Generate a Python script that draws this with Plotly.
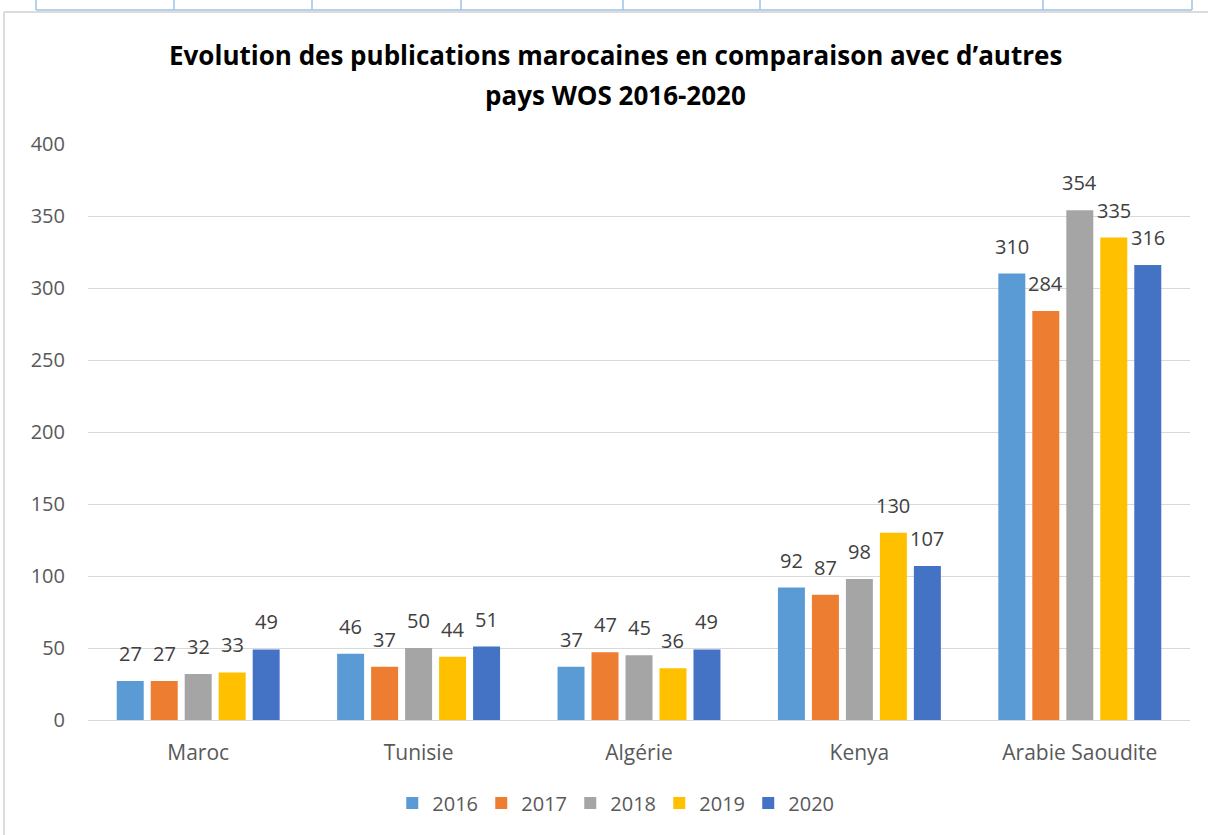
import plotly.graph_objects as go

countries = ['Maroc', 'Tunisie', 'Algérie', 'Kenya', 'Arabie Saoudite']
years = ['2016', '2017', '2018', '2019', '2020']
v2016 = [27, 46, 37, 92, 310]
v2017 = [27, 37, 47, 87, 284]
v2018 = [32, 50, 45, 98, 354]
v2019 = [33, 44, 36, 130, 335]
v2020 = [49, 51, 49, 107, 316]
y_ticks = [0, 50, 100, 150, 200, 250, 300, 350, 400]
title_lines = ['Evolution des publications marocaines en comparaison avec d’autres',
               'pays WOS 2016-2020']

series = [v2016, v2017, v2018, v2019, v2020]
colors = ['#5B9BD5', '#ED7D31', '#A5A5A5', '#FFC000', '#4472C4']
FONT = 'Open Sans'

W, H = 1208, 835
L, R, T, B = 88, 18, 144, 115
pw, ph = W - L - R, H - T - B
BARGAP, GROUPGAP = 0.229, 0.206
# width of one bar slot inside a category, in pixels
slot = pw / len(countries) * (1 - BARGAP) / len(years)


def px(x):
    return (x - L) / pw


def py(y):
    return (H - B - y) / ph


fig = go.Figure()
annotations = []
for i, (year, vals, col) in enumerate(zip(years, series, colors)):
    fig.add_trace(go.Bar(
        x=countries, y=vals, name=year,
        marker=dict(color=col, line=dict(width=0)),
    ))
    # data labels sit a little higher above the bars than plotly's outside text
    for c, v in zip(countries, vals):
        annotations.append(dict(
            x=c, y=v, xref='x', yref='y', text=str(v), showarrow=False,
            xanchor='center', yanchor='bottom', xshift=(i - 2) * slot, yshift=12,
            font=dict(color='#404040', size=20, family=FONT),
        ))

# chart frame and the table border above it (screenshot context)
shapes = [
    dict(type='line', xref='paper', yref='paper', x0=px(4), x1=px(4), y0=py(12), y1=py(840),
         line=dict(color='#D0D0D0', width=1.5)),
    dict(type='line', xref='paper', yref='paper', x0=px(4), x1=px(1210), y0=py(12), y1=py(12),
         line=dict(color='#D0D0D0', width=1.5)),
    dict(type='line', xref='paper', yref='paper', x0=px(36), x1=px(1192), y0=py(10), y1=py(10),
         line=dict(color='#9DC3E6', width=1.5)),
]
for xv in [36, 174, 312, 461, 623, 760, 1043, 1192]:
    shapes.append(dict(type='line', xref='paper', yref='paper', x0=px(xv), x1=px(xv),
                       y0=py(-5), y1=py(10), line=dict(color='#9DC3E6', width=1.5)))

for line, yy in zip(title_lines, [55, 95]):
    annotations.append(dict(
        text=f'<b>{line}</b>', xref='paper', yref='paper', x=px(615), y=py(yy),
        xanchor='center', yanchor='middle', showarrow=False,
        font=dict(family=FONT, size=26, color='#000000'),
    ))

fig.update_layout(
    width=W, height=H,
    margin=dict(l=L, r=R, t=T, b=B),
    plot_bgcolor='white', paper_bgcolor='white',
    font=dict(family=FONT, color='#595959', size=19),
    barmode='group', bargap=BARGAP, bargroupgap=GROUPGAP,
    xaxis=dict(showgrid=False, ticks='', showline=True, linecolor='#D9D9D9', linewidth=1,
               tickfont=dict(size=21, color='#595959'), ticklabelstandoff=14),
    yaxis=dict(range=[0, 400], tickvals=y_ticks, showgrid=True, gridcolor='#D9D9D9',
               gridwidth=1, zeroline=False, ticks='', showline=False,
               tickfont=dict(size=20, color='#595959'), ticklabelstandoff=22),
    legend=dict(orientation='h', x=0.478, xanchor='center', y=py(803), yanchor='middle',
                font=dict(size=20, color='#595959'), traceorder='normal',
                itemwidth=30, entrywidth=44),
    shapes=shapes,
    annotations=annotations,
    showlegend=True,
)

fig.write_html('out.html', config={'displayModeBar': False},
               post_script="document.body.style.margin='0';")
